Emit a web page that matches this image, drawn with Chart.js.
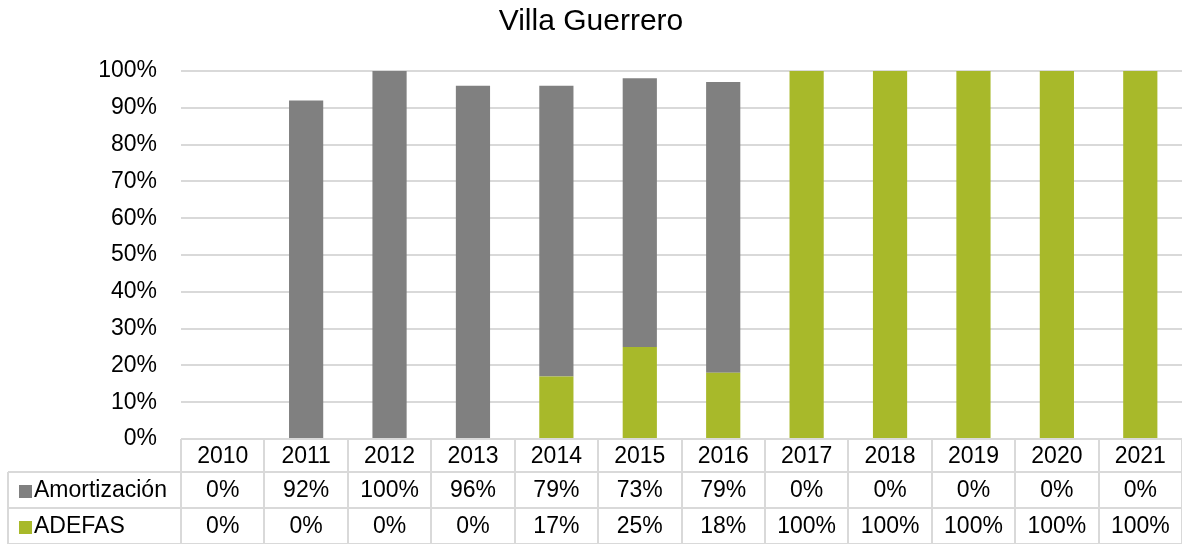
<!DOCTYPE html>
<html>
<head>
<meta charset="utf-8">
<script src="https://cdn.jsdelivr.net/npm/chart.js@4.4.0/dist/chart.umd.min.js"></script>
<style>
  html, body { margin: 0; padding: 0; background: #fff; }
  #wrap { width: 1182px; height: 544px; position: relative; }
</style>
</head>
<body>
<div id="wrap"><canvas id="c" width="1182" height="544"></canvas></div>
<script>
const titleText = 'Villa Guerrero';
const years = ['2010','2011','2012','2013','2014','2015','2016','2017','2018','2019','2020','2021'];
const amortizacion = [0, 92, 100, 96, 79, 73, 79, 0, 0, 0, 0, 0];
const adefas = [0, 0, 0, 0, 17, 25, 18, 100, 100, 100, 100, 100];
const seriesNames = ['Amortización', 'ADEFAS'];
const yTicks = [0, 10, 20, 30, 40, 50, 60, 70, 80, 90, 100];

const GRAY = '#808080';
const GREEN = '#a8b92a';
const GRID = '#d9d9d9';
const FONT = '"Liberation Sans", Arial, sans-serif';

const tablePlugin = {
  id: 'dataTable',
  afterDraw(chart) {
    const ctx = chart.ctx;
    const x = chart.scales.x;
    const area = chart.chartArea;
    const top = area.bottom;
    const rowH = [33, 36, 36];
    const r1 = top + rowH[0];
    const r2 = r1 + rowH[1];
    const r3 = r2 + rowH[2];
    const leftEdge = 8;
    const n = years.length;
    const half = (x.getPixelForValue(1) - x.getPixelForValue(0)) / 2;
    ctx.save();
    ctx.strokeStyle = GRID;
    ctx.lineWidth = 2;
    ctx.beginPath();
    ctx.moveTo(area.left, top); ctx.lineTo(area.right, top);
    ctx.moveTo(leftEdge, r1); ctx.lineTo(area.right, r1);
    ctx.moveTo(leftEdge, r2); ctx.lineTo(area.right, r2);
    ctx.moveTo(leftEdge, r3); ctx.lineTo(area.right, r3);
    ctx.moveTo(leftEdge, r1); ctx.lineTo(leftEdge, r3);
    for (let i = 0; i <= n; i++) {
      const px = Math.round(x.getPixelForValue(0) - half + i * 2 * half);
      ctx.moveTo(px, top); ctx.lineTo(px, r3);
    }
    ctx.stroke();

    ctx.fillStyle = '#000';
    ctx.font = '23px ' + FONT;
    ctx.textBaseline = 'middle';
    ctx.textAlign = 'center';
    const rows = [amortizacion, adefas];
    const cy = [(top + r1) / 2 + 1, (r1 + r2) / 2 + 1, (r2 + r3) / 2 + 1];
    years.forEach((y, i) => {
      const px = x.getPixelForValue(i);
      ctx.fillText(y, px, cy[0]);
      ctx.fillText(rows[0][i] + '%', px, cy[1]);
      ctx.fillText(rows[1][i] + '%', px, cy[2]);
    });
    const keyColors = [GRAY, GREEN];
    [1, 2].forEach((k, j) => {
      ctx.fillStyle = keyColors[j];
      ctx.fillRect(19, cy[k] - 6, 13, 13);
      ctx.fillStyle = '#000';
      ctx.textAlign = 'left';
      ctx.fillText(seriesNames[j], 34, cy[k]);
    });
    ctx.restore();
  }
};

new Chart(document.getElementById('c'), {
  type: 'bar',
  data: {
    labels: years,
    datasets: [
      { label: seriesNames[1], data: adefas, backgroundColor: GREEN, stack: 's' },
      { label: seriesNames[0], data: amortizacion, backgroundColor: GRAY, stack: 's' }
    ]
  },
  options: {
    responsive: false,
    animation: false,
    devicePixelRatio: 1,
    layout: { padding: { top: 0, right: 0, bottom: 0, left: 0 } },
    datasets: { bar: { barPercentage: 0.41, categoryPercentage: 1.0 } },
    plugins: {
      legend: { display: false },
      tooltip: { enabled: false },
      title: {
        display: true,
        text: titleText,
        color: '#000',
        font: { family: FONT, size: 30, weight: 'normal' },
        padding: { top: 4, bottom: 31 }
      }
    },
    scales: {
      x: {
        stacked: true,
        grid: { display: false },
        border: { display: false },
        ticks: { display: false },
        afterFit(s) { s.height = 105; }
      },
      y: {
        stacked: true,
        min: 0,
        max: 100,
        afterBuildTicks(s) { s.ticks = yTicks.map(v => ({ value: v })); },
        grid: { color: GRID, lineWidth: 2, drawTicks: false },
        border: { display: false },
        ticks: {
          color: '#000',
          padding: 24,
          font: { family: FONT, size: 23 },
          callback: v => v + '%'
        },
        afterFit(s) { s.width = 181; }
      }
    }
  },
  plugins: [tablePlugin]
});
</script>
</body>
</html>
